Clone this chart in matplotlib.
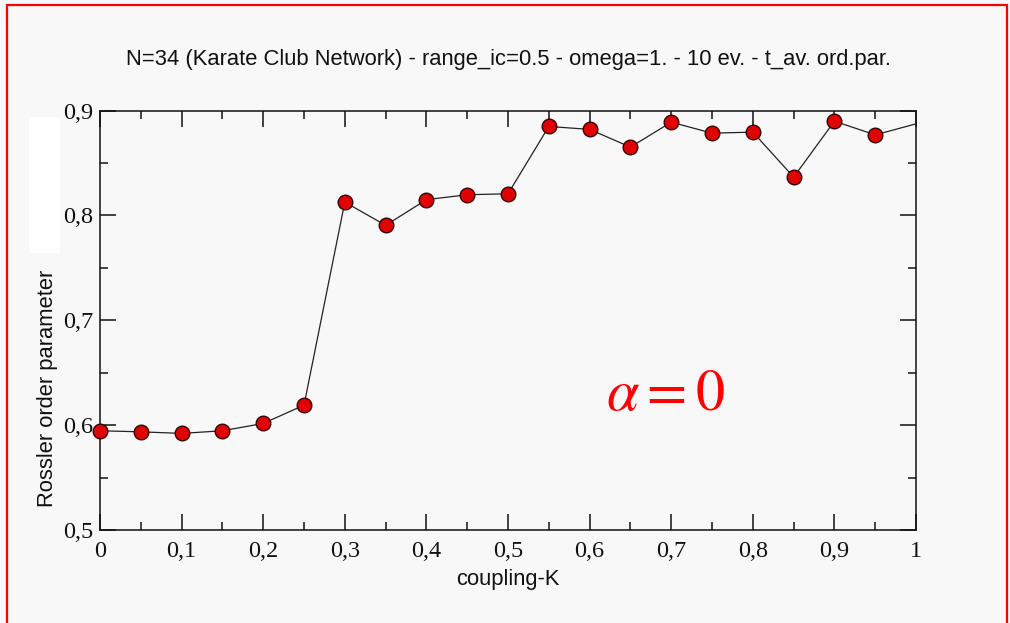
import matplotlib
matplotlib.use("Agg")
import matplotlib.pyplot as plt
from matplotlib.patches import Rectangle
from matplotlib.ticker import MultipleLocator, FuncFormatter

# coupling strength K and time-averaged Rossler order parameter
coupling = [0.0, 0.05, 0.1, 0.15, 0.2, 0.25, 0.3, 0.35, 0.4, 0.45, 0.5,
            0.55, 0.6, 0.65, 0.7, 0.75, 0.8, 0.85, 0.9, 0.95, 1.0]
order_par = [0.5946, 0.5936, 0.5921, 0.5946, 0.6016, 0.619, 0.8127, 0.7905,
             0.815, 0.8197, 0.8206, 0.8848, 0.882, 0.8651, 0.8889, 0.8784,
             0.8794, 0.8365, 0.8898, 0.8768, 0.8873]

title = "N=34 (Karate Club Network) - range_ic=0.5 - omega=1. - 10 ev. - t_av. ord.par."
bg = "#f8f8f8"

plt.rcParams["mathtext.fontset"] = "stix"

fig = plt.figure(figsize=(10.1, 6.23), dpi=100, facecolor=bg)
ax = fig.add_axes([0.099, 0.1493, 0.808, 0.6733], facecolor=bg)

# red frame round the slide and white patch on the left
fig.patches.append(Rectangle((7 / 1010, -0.1), 1000 / 1010, 1.1 - 5 / 623,
                             transform=fig.transFigure, fill=False,
                             edgecolor="#ff0000", linewidth=1.6))
fig.patches.append(Rectangle((29 / 1010, 1 - 253 / 623), 31 / 1010, 136 / 623,
                             transform=fig.transFigure, facecolor="white",
                             edgecolor="none"))

ax.plot(coupling, order_par, color="#222222", linewidth=0.9, marker="o",
        markersize=10.5, markerfacecolor="#e00000", markeredgecolor="#330000",
        markeredgewidth=1.0, markevery=slice(0, len(coupling) - 1),
        clip_on=False, zorder=3)

ax.set_xlim(0, 1)
ax.set_ylim(0.5, 0.9)
ax.xaxis.set_major_locator(MultipleLocator(0.1))
ax.xaxis.set_minor_locator(MultipleLocator(0.05))
ax.yaxis.set_major_locator(MultipleLocator(0.1))
ax.yaxis.set_minor_locator(MultipleLocator(0.05))

def comma(v, pos):
    s = "%g" % round(v, 2)
    return s.replace(".", ",")

ax.xaxis.set_major_formatter(FuncFormatter(comma))
ax.yaxis.set_major_formatter(FuncFormatter(comma))

ax.tick_params(which="both", direction="in", top=True, right=True,
               width=1.1, colors="#111111")
ax.tick_params(which="major", length=11.5)
ax.tick_params(which="minor", length=6)
ax.tick_params(axis="x", which="major", pad=8)
ax.tick_params(axis="y", which="major", pad=5)
for lab in ax.get_xticklabels() + ax.get_yticklabels():
    lab.set_fontfamily("Liberation Serif")
    lab.set_fontsize(17.5)
for sp in ax.spines.values():
    sp.set_linewidth(1.1)
    sp.set_color("#111111")

ax.set_title(title, fontfamily="Liberation Sans", fontsize=15.8, pad=32.5,
             color="#111111")
ax.set_xlabel("coupling-K", fontfamily="Liberation Sans", fontsize=15.8,
              color="#111111")
ax.xaxis.set_label_coords(0.5, -0.094)
ax.set_ylabel("Rossler order parameter", fontfamily="Liberation Sans",
              fontsize=15.8, color="#111111")
ax.yaxis.set_label_coords(-0.051, 0.338)

ax.text(0.6925, 0.614, r"$\alpha{=}0$", color="#ff0000", fontsize=42,
        ha="center", va="baseline")

fig.savefig("out.png", dpi=100, facecolor=bg)
